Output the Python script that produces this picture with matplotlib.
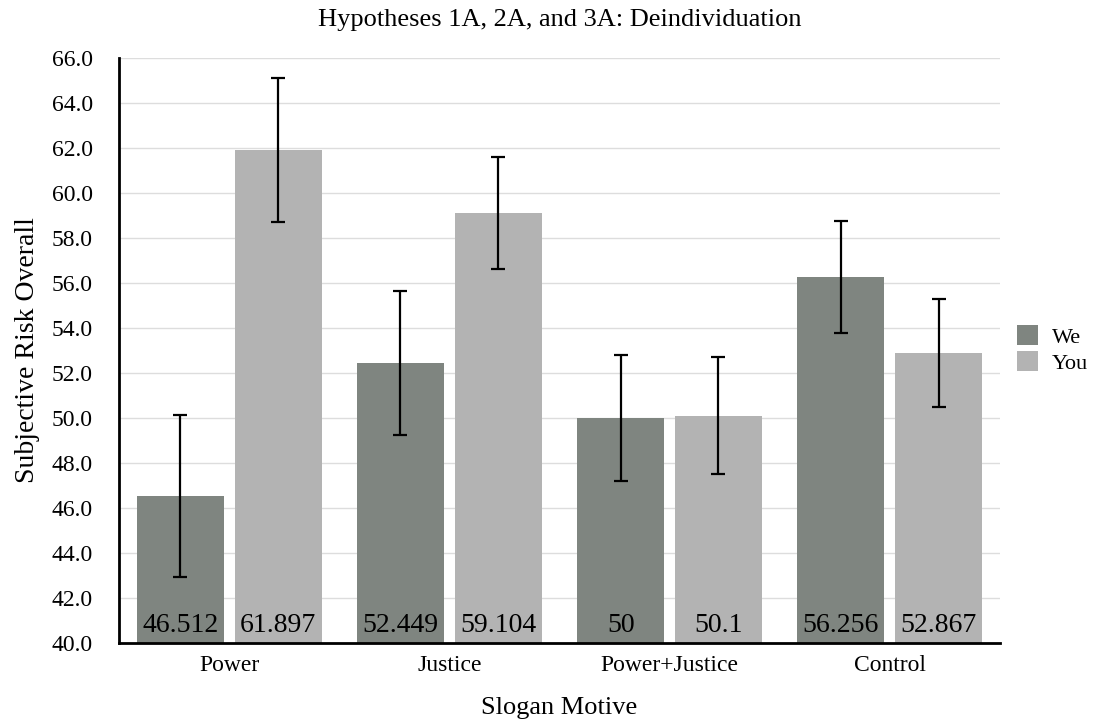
import matplotlib.pyplot as plt
import numpy as np

plt.rcParams['font.family'] = ['Liberation Serif', 'DejaVu Serif']

categories = ['Power', 'Justice', 'Power+Justice', 'Control']
we_values = [46.512, 52.449, 50, 56.256]
you_values = [61.897, 59.104, 50.1, 52.867]
we_labels = ['46.512', '52.449', '50', '56.256']
you_labels = ['61.897', '59.104', '50.1', '52.867']
we_err = [3.6, 3.2, 2.8, 2.5]
you_err = [3.2, 2.5, 2.6, 2.4]

fig = plt.figure(figsize=(10.98, 7.21), dpi=100)
ax = fig.add_axes([0.1084, 0.1082, 0.8023, 0.8114])

x = np.arange(len(categories))
w = 0.395
off = 0.222
c_we = '#7f8580'
c_you = '#b3b3b3'

ax.bar(x - off, np.array(we_values) - 40, w, bottom=40, color=c_we, label='We', zorder=2)
ax.bar(x + off, np.array(you_values) - 40, w, bottom=40, color=c_you, label='You', zorder=2)
ax.errorbar(x - off, we_values, yerr=we_err, fmt='none', ecolor='black',
            elinewidth=1.6, capsize=5, capthick=1.6, zorder=3)
ax.errorbar(x + off, you_values, yerr=you_err, fmt='none', ecolor='black',
            elinewidth=1.6, capsize=5, capthick=1.6, zorder=3)

for i in range(len(categories)):
    ax.text(x[i] - off, 40.2, we_labels[i], ha='center', va='bottom', fontsize=20, zorder=4)
    ax.text(x[i] + off, 40.2, you_labels[i], ha='center', va='bottom', fontsize=20, zorder=4)

ax.set_xlim(-0.5, 3.5)
ax.set_ylim(40, 66)
ax.set_yticks(np.arange(40, 66.1, 2))
ax.set_yticklabels([f'{v:.1f}' for v in np.arange(40, 66.1, 2)])
ax.set_xticks(x)
ax.set_xticklabels(categories)
ax.tick_params(axis='both', length=0, labelsize=17)
ax.tick_params(axis='y', pad=19)
ax.tick_params(axis='x', pad=9)
ax.grid(axis='y', color='#dddddd', linewidth=1, zorder=0)
ax.set_axisbelow(True)
for s in ['top', 'right']:
    ax.spines[s].set_visible(False)
for s in ['left', 'bottom']:
    ax.spines[s].set_linewidth(2)
    ax.spines[s].set_zorder(5)

ax.set_title('Hypotheses 1A, 2A, and 3A: Deindividuation', fontsize=19, pad=23)
ax.set_xlabel('Slogan Motive', fontsize=19, labelpad=15)
ax.set_ylabel('Subjective Risk Overall', fontsize=20, labelpad=8)

fig.legend(loc='center left', bbox_to_anchor=(0.9265, 0.515), frameon=False,
           fontsize=16, handlelength=0.95, handleheight=1.0, handletextpad=0.6,
           labelspacing=0.15, borderpad=0, borderaxespad=0)

fig.savefig('out.png', dpi=100)
